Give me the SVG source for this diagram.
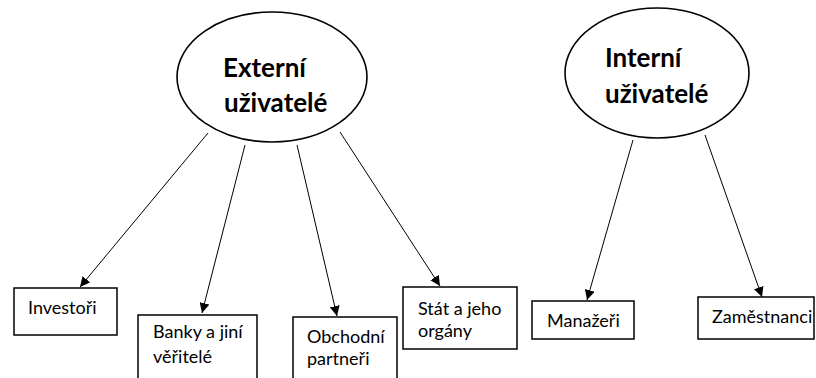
<svg xmlns="http://www.w3.org/2000/svg" width="816" height="378" viewBox="0 0 816 378">
<style>
.ell{fill:#fff;stroke:#000;stroke-width:1.6}
.box{fill:#fff;stroke:#000;stroke-width:1.5}
.h{font-family:Lato,"Liberation Sans",sans-serif;font-weight:bold;font-size:26px;fill:#000}
.t{font-family:Lato,"Liberation Sans",sans-serif;font-size:18px;fill:#000}
.c{stroke:#000;stroke-width:1;fill:none;marker-end:url(#ah)}
</style>
<defs>
<marker id="ah" viewBox="0 0 10 10" refX="10" refY="5" markerWidth="10" markerHeight="10" markerUnits="userSpaceOnUse" orient="auto">
<path d="M0,0 L10,5 L0,10 z" fill="#000"/>
</marker>
</defs>
<rect width="816" height="378" fill="#fff"/>
<g id="connectors">
<line class="c" x1="208" y1="133" x2="80" y2="287"/>
<line class="c" x1="245" y1="145" x2="202" y2="313"/>
<line class="c" x1="297" y1="145" x2="337" y2="316"/>
<line class="c" x1="340" y1="132" x2="440" y2="286"/>
<line class="c" x1="633" y1="140" x2="587" y2="300"/>
<line class="c" x1="705" y1="135" x2="762" y2="297"/>
</g>
<g id="externi">
<ellipse class="ell" cx="272" cy="77" rx="95" ry="65"/>
<text class="h" x="223" y="77">Externí</text>
<text class="h" x="224" y="112">uživatelé</text>
</g>
<g id="interni">
<ellipse class="ell" cx="657" cy="73" rx="92" ry="65"/>
<text class="h" x="605" y="67">Interní</text>
<text class="h" x="605" y="103">uživatelé</text>
</g>
<g id="investori">
<rect class="box" x="14" y="288" width="103" height="47"/>
<text class="t" x="28" y="314">Investoři</text>
</g>
<g id="banky">
<rect class="box" x="138" y="315" width="119" height="70"/>
<text class="t" x="153" y="338">Banky a jiní</text>
<text class="t" x="153" y="363">věřitelé</text>
</g>
<g id="obchodni">
<rect class="box" x="293" y="317" width="104" height="70"/>
<text class="t" x="307" y="343">Obchodní</text>
<text class="t" x="307" y="365">partneři</text>
</g>
<g id="stat">
<rect class="box" x="403" y="287" width="114" height="62"/>
<text class="t" x="418" y="315">Stát a jeho</text>
<text class="t" x="418" y="337">orgány</text>
</g>
<g id="manazeri">
<rect class="box" x="532" y="301" width="102" height="38"/>
<text class="t" x="547" y="327">Manažeři</text>
</g>
<g id="zamestnanci">
<rect class="box" x="698" y="297" width="116" height="42"/>
<text class="t" x="712" y="323">Zaměstnanci</text>
</g>
</svg>
